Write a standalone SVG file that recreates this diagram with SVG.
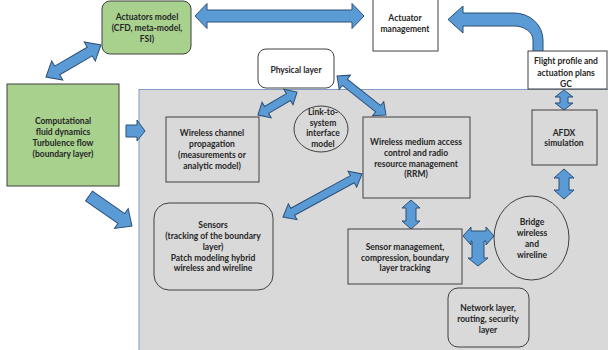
<svg xmlns="http://www.w3.org/2000/svg" width="608" height="350" viewBox="0 0 608 350">
<style>
text{font-family:Lato,"Liberation Sans",sans-serif;font-weight:bold;font-size:8.5px;fill:#262626;text-anchor:middle}
.box{stroke:#404040;stroke-width:1}
.green{fill:#a9d18e}
.white{fill:#ffffff}
.gray{fill:#d9d9d9}
.arr{fill:#5b9bd5;stroke:#2c4f78;stroke-width:1;stroke-linejoin:miter}
</style>
<rect width="608" height="350" fill="#ffffff"/>
<rect id="panel" x="139" y="89.5" width="472" height="265" fill="#d9d9d9" stroke="#7f9cc0" stroke-width="1"/>

<g id="connectors">
  <!-- CFD <-> Actuators model -->
  <path class="arr" transform="translate(46,77) rotate(-30.2)" d="M0,0 L13,-11 L13,-5 L50.6,-5 L50.6,-11 L63.6,0 L50.6,11 L50.6,5 L13,5 L13,11 Z"/>
  <!-- Actuators model <-> Actuator management -->
  <path class="arr" d="M195,16 L207,3.5 L207,10 L352,10 L352,3.5 L364,16 L352,28.5 L352,22 L207,22 L207,28.5 Z"/>
  <!-- Flight profile -> Actuator management (curved) -->
  <path class="arr" d="M533,52 L533,40 A19,14 0 0 0 514,26 L463,26 L463,33 L448,19.5 L463,6 L463,13 L514,13 A29,27 0 0 1 543,40 L543,52 Z"/>
  <!-- Physical layer <-> Wireless channel -->
  <path class="arr" transform="translate(258,115) rotate(-30.5)" d="M0,0 L10,-9 L10,-4 L35.3,-4 L35.3,-9 L45.3,0 L35.3,9 L35.3,4 L10,4 L10,9 Z"/>
  <!-- Physical layer <-> RRM -->
  <path class="arr" transform="translate(337,76) rotate(38.5)" d="M0,0 L10,-9 L10,-4 L52.6,-4 L52.6,-9 L62.6,0 L52.6,9 L52.6,4 L10,4 L10,9 Z"/>
  <!-- RRM <-> Sensors -->
  <path class="arr" transform="translate(283,217) rotate(-28.6)" d="M0,0 L11,-9 L11,-4 L79,-4 L79,-9 L90,0 L79,9 L79,4 L11,4 L11,9 Z"/>
  <!-- RRM <-> Sensor management -->
  <path class="arr" d="M411,200 L420,208 L416,208 L416,221 L420,221 L411,229 L402,221 L406,221 L406,208 L402,208 Z"/>
  <!-- Flight profile <-> AFDX -->
  <path class="arr" d="M564,90 L573,97 L568,97 L568,103 L573,103 L564,110 L555,103 L560,103 L560,97 L555,97 Z"/>
  <!-- AFDX <-> Bridge -->
  <path class="arr" d="M564,169 L574,178 L569,178 L569,190 L574,190 L564,199 L554,190 L559,190 L559,178 L554,178 Z"/>
  <!-- CFD -> Wireless channel -->
  <path class="arr" d="M126,125 L137,125 L137,120 L145,131 L137,141 L137,137 L126,137 Z"/>
  <!-- CFD -> Sensors -->
  <path class="arr" transform="translate(89,196) rotate(34.9)" d="M0,-6 L39.4,-6 L39.4,-12 L52.4,0 L39.4,12 L39.4,6 L0,6 Z"/>
  <!-- T arrow: Sensor management <-> Bridge, down to Network layer -->
  <path class="arr" d="M463,236 L471,227 L471,231 L486,231 L486,227 L494,236 L486,245 L486,241 L484,241 L484,258 L488,258 L478,266 L468,258 L472,258 L472,241 L471,241 L471,245 Z"/>
</g>

<g id="actuators-model">
  <rect class="box green" x="102" y="1" width="89" height="53" rx="8"/>
  <text x="147" y="20">Actuators model</text>
  <text x="147" y="31">(CFD, meta-model,</text>
  <text x="147" y="42">FSI)</text>
</g>
<g id="actuator-management">
  <rect class="box white" x="373" y="-2" width="65" height="53"/>
  <text x="405" y="21">Actuator</text>
  <text x="405" y="32">management</text>
</g>
<g id="flight-profile">
  <rect class="box white" x="528" y="51" width="79" height="38"/>
  <text x="566" y="64">Flight profile and</text>
  <text x="566" y="75.5">actuation plans</text>
  <text x="566" y="87">GC</text>
</g>
<g id="physical-layer">
  <rect class="box white" x="258" y="49" width="76" height="39" rx="8"/>
  <text x="296" y="73">Physical layer</text>
</g>
<g id="cfd">
  <rect class="box green" x="7" y="84" width="112" height="102"/>
  <text x="63" y="124">Computational</text>
  <text x="63" y="135">fluid dynamics</text>
  <text x="63" y="146">Turbulence flow</text>
  <text x="63" y="157">(boundary layer)</text>
</g>
<g id="wireless-channel">
  <rect class="box gray" x="166" y="117" width="93" height="65"/>
  <text x="212" y="136">Wireless channel</text>
  <text x="212" y="147">propagation</text>
  <text x="212" y="158">(measurements or</text>
  <text x="212" y="169">analytic model)</text>
</g>
<g id="link-to-system">
  <ellipse class="box gray" cx="321" cy="129" rx="27" ry="23"/>
  <text x="323" y="115">Link-to-</text>
  <text x="323" y="125.5">system</text>
  <text x="323" y="136">interface</text>
  <text x="323" y="146.5">model</text>
</g>
<g id="rrm">
  <rect class="box gray" x="363" y="117" width="107" height="81"/>
  <text x="416" y="145">Wireless medium access</text>
  <text x="416" y="156">control and radio</text>
  <text x="416" y="166.5">resource management</text>
  <text x="416" y="177">(RRM)</text>
</g>
<g id="afdx">
  <rect class="box gray" x="532" y="110" width="65" height="55"/>
  <text x="564" y="136">AFDX</text>
  <text x="564" y="146">simulation</text>
</g>
<g id="sensors">
  <rect class="box gray" x="154" y="203" width="119" height="87" rx="15"/>
  <text x="213" y="228">Sensors</text>
  <text x="213" y="239">(tracking of the boundary</text>
  <text x="213" y="250">layer)</text>
  <text x="213" y="261">Patch modeling hybrid</text>
  <text x="213" y="271">wireless and wireline</text>
</g>
<g id="sensor-management">
  <rect class="box gray" x="348" y="229" width="114" height="55"/>
  <text x="405" y="250">Sensor management,</text>
  <text x="405" y="261">compression, boundary</text>
  <text x="405" y="271">layer tracking</text>
</g>
<g id="bridge">
  <ellipse class="box gray" cx="531.5" cy="238" rx="37.5" ry="42"/>
  <text x="532" y="225">Bridge</text>
  <text x="532" y="236">wireless</text>
  <text x="532" y="247">and</text>
  <text x="532" y="258">wireline</text>
</g>
<g id="network-layer">
  <rect class="box gray" x="448" y="288" width="81" height="59" rx="10"/>
  <text x="488" y="311">Network layer,</text>
  <text x="488" y="322">routing, security</text>
  <text x="488" y="333">layer</text>
</g>
</svg>
